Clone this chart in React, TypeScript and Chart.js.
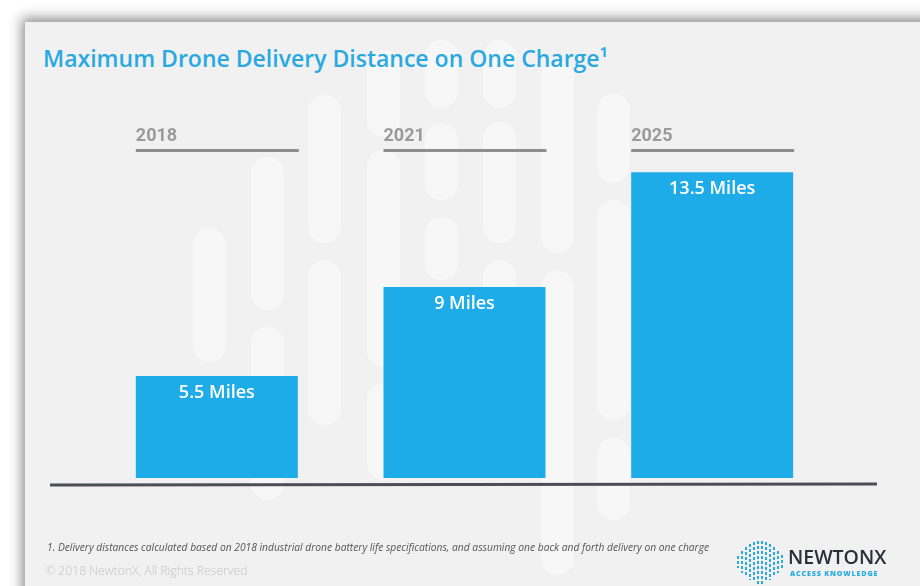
import React, { useEffect, useRef } from "react";
import { Chart, registerables } from "chart.js";

Chart.register(...registerables);

const YEARS = ["2018", "2021", "2025"];
const DISTANCE_MILES = [5.5, 9, 13.5];
const VALUE_LABELS = ["5.5 Miles", "9 Miles", "13.5 Miles"];
const Y_MIN = 1.5;
const Y_MAX = 15;

const TITLE = "Maximum Drone Delivery Distance on One Charge\u00b9";
const FOOTNOTE =
  "1. Delivery distances calculated based on 2018 industrial drone battery life specifications, and assuming one back and forth delivery on one charge";
const COPYRIGHT = "\u00a9 2018 NewtonX, All Rights Reserved";

// decorative background pills [x, yTop, yBottom]
const PILLS: [number, number, number][] = [
  [193, 228, 362],
  [251, 157, 310],
  [251, 327, 500],
  [308, 95, 243],
  [308, 260, 425],
  [367, 50, 137],
  [367, 150, 367],
  [367, 383, 480],
  [425, 40, 108],
  [425, 123, 200],
  [425, 217, 280],
  [483, 40, 108],
  [483, 122, 243],
  [483, 260, 330],
  [541, 60, 253],
  [541, 270, 575],
  [597, 93, 183],
  [597, 200, 420],
  [597, 437, 520],
  [655, 355, 470],
];

const BRAIN_COLS = [12, 22, 30, 36, 40, 42, 42, 40, 36, 30, 22, 14];

const overlayPlugin = {
  id: "overlay",
  afterDatasetsDraw(chart: any) {
    const ctx = chart.ctx as CanvasRenderingContext2D;
    const meta = chart.getDatasetMeta(0);
    const area = chart.chartArea;
    meta.data.forEach((bar: any, i: number) => {
      const { x, y, width } = bar.getProps(["x", "y", "width"], true);
      const left = x - width / 2;
      ctx.save();
      ctx.fillStyle = "#9a9a9a";
      ctx.font = "bold 18px Roboto";
      ctx.textBaseline = "middle";
      ctx.textAlign = "left";
      ctx.fillText(YEARS[i], left, area.top + 2);
      ctx.fillStyle = "#8e8e8e";
      ctx.fillRect(left, area.top + 15, width + 1, 3);
      ctx.fillStyle = "#ffffff";
      ctx.font = "600 18px 'Open Sans'";
      ctx.textAlign = "center";
      ctx.fillText(VALUE_LABELS[i], x, y + 17);
      ctx.restore();
    });
    ctx.save();
    ctx.strokeStyle = "#4b4e56";
    ctx.lineWidth = 3;
    ctx.beginPath();
    ctx.moveTo(area.left - 43, area.bottom + 7);
    ctx.lineTo(area.right + 41, area.bottom + 6);
    ctx.stroke();
    ctx.restore();
  },
};

function ChartCanvas() {
  const ref = useRef<HTMLCanvasElement | null>(null);
  useEffect(() => {
    if (!ref.current) return;
    const chart = new Chart(ref.current, {
      type: "bar",
      data: {
        labels: YEARS,
        datasets: [
          {
            data: DISTANCE_MILES,
            backgroundColor: "#1eace8",
            borderWidth: 0,
            categoryPercentage: 1,
            barPercentage: 0.654,
          },
        ],
      },
      options: {
        responsive: false,
        animation: false,
        layout: { padding: { left: 93, right: 84, top: 134, bottom: 108 } },
        scales: {
          x: { display: false },
          y: { display: false, min: Y_MIN, max: Y_MAX },
        },
        plugins: {
          legend: { display: false },
          tooltip: { enabled: false },
          title: { display: false },
        },
      },
      plugins: [overlayPlugin],
    });
    return () => chart.destroy();
  }, []);
  return (
    <canvas
      ref={ref}
      width={920}
      height={586}
      style={{ position: "absolute", left: 0, top: 0, width: 920, height: 586 }}
    />
  );
}

export default function App() {
  return (
    <div
      style={{
        position: "fixed",
        left: 0,
        top: 0,
        width: 920,
        height: 586,
        overflow: "hidden",
        background: "#ffffff",
        fontFamily: "'Open Sans', sans-serif",
      }}
    >
      <div
        style={{
          position: "absolute",
          left: 25,
          top: 22,
          width: 940,
          height: 620,
          background: "#f1f1f1",
          boxShadow: "-3px -4px 12px rgba(0,0,0,0.45)",
        }}
      />
      {PILLS.map(([x, y0, y1], i) => (
        <div
          key={i}
          style={{
            position: "absolute",
            left: x,
            top: y0,
            width: 33,
            height: y1 - y0,
            borderRadius: 17,
            background: "#f7f7f7",
          }}
        />
      ))}
      <div
        style={{
          position: "absolute",
          left: 43,
          top: 42,
          fontSize: 23,
          fontWeight: 600,
          color: "#2aa9e1",
          whiteSpace: "nowrap",
          lineHeight: "32px",
        }}
      >
        {TITLE}
      </div>
      <ChartCanvas />
      <div
        style={{
          position: "absolute",
          left: 47,
          top: 539,
          fontSize: 10.25,
          fontStyle: "italic",
          color: "#555555",
          whiteSpace: "nowrap",
          lineHeight: "16px",
        }}
      >
        {FOOTNOTE}
      </div>
      <div
        style={{
          position: "absolute",
          left: 45,
          top: 562,
          fontSize: 12.2,
          fontWeight: 300,
          color: "#c4c4c4",
          whiteSpace: "nowrap",
          lineHeight: "18px",
        }}
      >
        {COPYRIGHT}
      </div>
      {BRAIN_COLS.map((h, i) => (
        <div
          key={"b" + i}
          style={{
            position: "absolute",
            left: 737 + i * 4,
            top: 562 - h / 2,
            width: 2,
            height: h + (i === 5 || i === 6 ? 12 : 0),
            background:
              "repeating-linear-gradient(to bottom, #29abe2 0px, #29abe2 3px, transparent 3px, transparent 5px)",
          }}
        />
      ))}
      <div
        style={{
          position: "absolute",
          left: 788,
          top: 544,
          fontSize: 19.5,
          fontWeight: 600,
          color: "#2b2f3a",
          whiteSpace: "nowrap",
          lineHeight: "26px",
          fontFamily: "'Open Sans', sans-serif",
        }}
      >
        NEWTONX
      </div>
      <div
        style={{
          position: "absolute",
          left: 790,
          top: 568,
          fontSize: 7.2,
          fontWeight: 800,
          color: "#29abe2",
          whiteSpace: "nowrap",
          letterSpacing: 0.8,
          lineHeight: "10px",
        }}
      >
        ACCESS KNOWLEDGE
      </div>
    </div>
  );
}
